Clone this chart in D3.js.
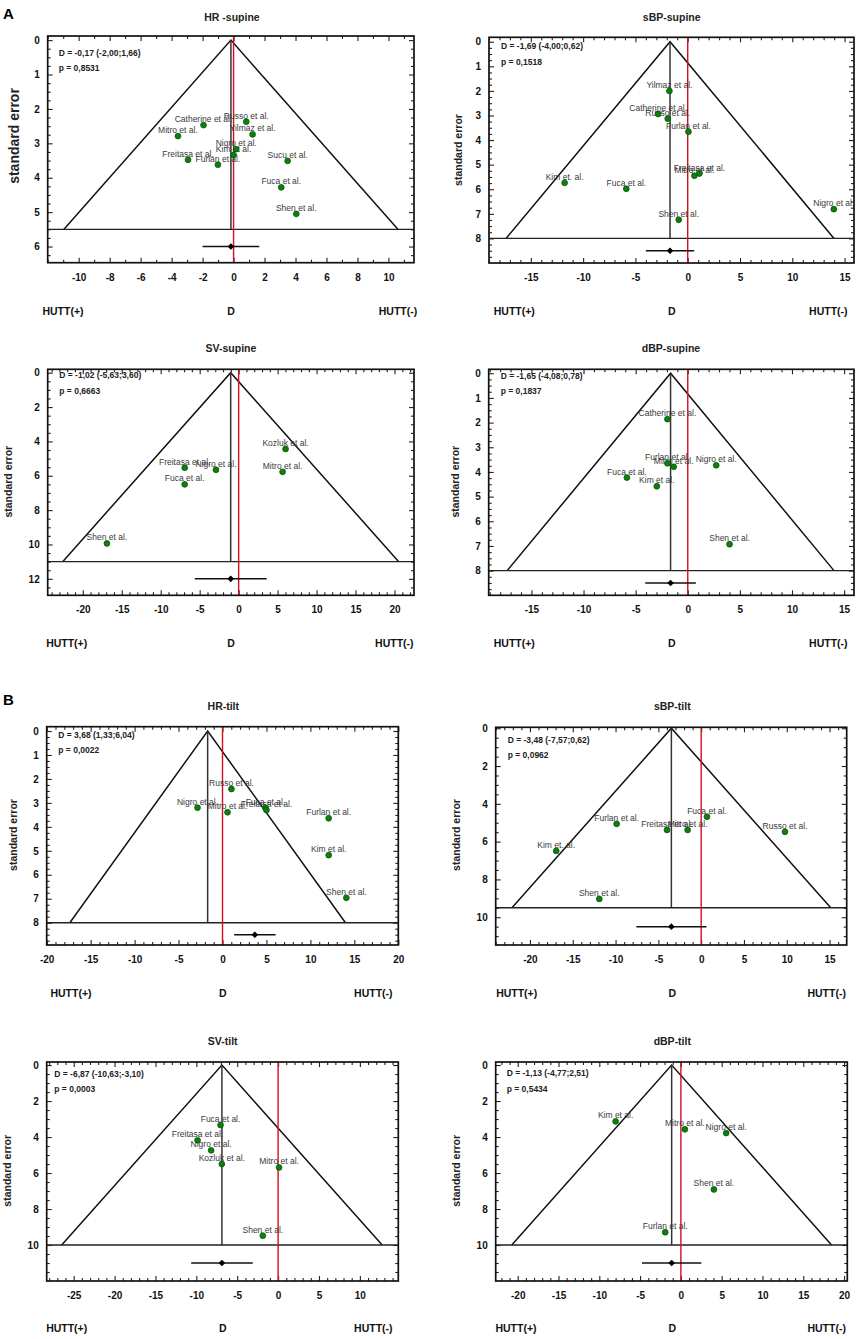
<!DOCTYPE html>
<html>
<head>
<meta charset="utf-8">
<script src="https://cdn.jsdelivr.net/npm/d3@7"></script>
<style>
  body { margin: 0; background: #fff; }
  svg text { font-family: "Liberation Sans", Arial, sans-serif; }
</style>
</head>
<body>
<script>
// ---- data ----
const hrSupineStudies = ["Catherine et al.", "Russo et al.", "Yilmaz et al.", "Mitro et al.", "Nigro et al.", "Kim et al.", "Freitasa et al.", "Furlan et al.", "Sucu et al.", "Fuca et al.", "Shen et al."];
const hrSupineEffect = [-1.94, 0.82, 1.23, -3.59, 0.17, 0.0, -2.94, -1.01, 3.49, 3.08, 4.05];
const hrSupineSE = [2.47, 2.37, 2.74, 2.79, 3.17, 3.34, 3.48, 3.62, 3.51, 4.28, 5.05];

const sbpSupineStudies = ["Yilmaz et al.", "Catherine et al.", "Russo et al.", "Furlan et al.", "Freitasa et al.", "Mitro et al.", "Kim et. al.", "Fuca et al.", "Nigro et al.", "Shen et al."];
const sbpSupineEffect = [-1.75, -2.83, -1.91, 0.07, 1.12, 0.64, -11.77, -5.87, 13.97, -0.86];
const sbpSupineSE = [2.0, 2.94, 3.13, 3.66, 5.36, 5.45, 5.74, 5.98, 6.81, 7.24];

const svSupineStudies = ["Kozluk et al.", "Mitro et al.", "Freitasa et al.", "Nigro et al.", "Fuca et al.", "Shen et al."];
const svSupineEffect = [6.02, 5.64, -6.92, -2.91, -6.92, -16.9];
const svSupineSE = [4.44, 5.77, 5.53, 5.65, 6.5, 9.94];

const dbpSupineStudies = ["Catherine et al.", "Furlan et al.", "Mitro et al.", "Nigro et al.", "Fuca et al.", "Kim et al.", "Shen et al."];
const dbpSupineEffect = [-1.95, -1.95, -1.35, 2.73, -5.84, -2.97, 4.01];
const dbpSupineSE = [1.86, 3.65, 3.79, 3.73, 4.23, 4.58, 6.93];

const hrTiltStudies = ["Russo et al.", "Nigro et al.", "Mitro et al.", "Fuca et al.", "Freitasa et al.", "Furlan et al.", "Kim et al.", "Shen et al."];
const hrTiltEffect = [1.02, -2.84, 0.57, 4.89, 5.0, 12.08, 12.08, 14.09];
const hrTiltSE = [2.42, 3.2, 3.39, 3.2, 3.3, 3.64, 5.18, 6.96];

const sbpTiltStudies = ["Fuca et al.", "Furlan et al.", "Freitasa et al.", "Mitro et al.", "Russo et al.", "Kim et. al.", "Shen et al."];
const sbpTiltEffect = [0.68, -9.87, -3.99, -1.58, 9.79, -16.93, -11.9];
const sbpTiltSE = [4.68, 5.06, 5.38, 5.38, 5.48, 6.49, 9.03];

const svTiltStudies = ["Fuca et al.", "Freitasa et al.", "Nigro et al.", "Kozluk et al.", "Mitro et al.", "Shen et al."];
const svTiltEffect = [-7.04, -9.85, -8.19, -6.88, 0.12, -1.87];
const svTiltSE = [3.33, 4.18, 4.74, 5.5, 5.69, 9.48];

const dbpTiltStudies = ["Kim et al.", "Mitro et al.", "Nigro et al.", "Shen et al.", "Furlan et al."];
const dbpTiltEffect = [-8.0, 0.49, 5.55, 4.05, -1.92];
const dbpTiltSE = [3.13, 3.57, 3.78, 6.91, 9.29];

const panelTitles = ["HR -supine", "sBP-supine", "SV-supine", "dBP-supine", "HR-tilt", "sBP-tilt", "SV-tilt", "dBP-tilt"];
const pooledD = [-0.17, -1.69, -1.02, -1.65, 3.68, -3.48, -6.87, -1.13];
const pooledLow = [-2.00, -4.00, -5.63, -4.08, 1.33, -7.57, -10.63, -4.77];
const pooledHigh = [1.66, 0.62, 3.60, 0.78, 6.04, 0.62, -3.10, 2.51];
const pValues = ["0,8531", "0,1518", "0,6663", "0,1837", "0,0022", "0,0962", "0,0003", "0,5434"];
const funnelCenter = [-0.17, -1.69, -1.02, -1.65, -1.69, -3.48, -6.87, -1.13];
const funnelBaseSE = [5.5, 8, 11, 8, 8, 9.5, 10, 10];
const pooledRowSE = [6, 8.5, 12, 8.5, 8.5, 10.5, 11, 11];

const xTickValues = [
  [-10, -8, -6, -4, -2, 0, 2, 4, 6, 8, 10],
  [-15, -10, -5, 0, 5, 10, 15],
  [-20, -15, -10, -5, 0, 5, 10, 15, 20],
  [-15, -10, -5, 0, 5, 10, 15],
  [-20, -15, -10, -5, 0, 5, 10, 15, 20],
  [-20, -15, -10, -5, 0, 5, 10, 15],
  [-25, -20, -15, -10, -5, 0, 5, 10],
  [-20, -15, -10, -5, 0, 5, 10, 15, 20]
];
const yTickValues = [
  [0, 1, 2, 3, 4, 5, 6],
  [0, 1, 2, 3, 4, 5, 6, 7, 8],
  [0, 2, 4, 6, 8, 10, 12],
  [0, 1, 2, 3, 4, 5, 6, 7, 8],
  [0, 1, 2, 3, 4, 5, 6, 7, 8],
  [0, 2, 4, 6, 8, 10],
  [0, 2, 4, 6, 8, 10],
  [0, 2, 4, 6, 8, 10]
];
const sideLabels = ["HUTT(+)", "D", "HUTT(-)"];

const studies = [hrSupineStudies, sbpSupineStudies, svSupineStudies, dbpSupineStudies, hrTiltStudies, sbpTiltStudies, svTiltStudies, dbpTiltStudies];
const effects = [hrSupineEffect, sbpSupineEffect, svSupineEffect, dbpSupineEffect, hrTiltEffect, sbpTiltEffect, svTiltEffect, dbpTiltEffect];
const stdErrors = [hrSupineSE, sbpSupineSE, svSupineSE, dbpSupineSE, hrTiltSE, sbpTiltSE, svTiltSE, dbpTiltSE];

// ---- layout of each panel (page pixels) ----
const layout = [
  { frame: [47.7, 414, 36, 262.7], xDom: [-12, 11.65], yDom: [-0.12, 6.47], xMinor: 1, yMinor: 0.25, stat: [11, 20, 35], title: [232, 21], ylab: [14, 136, 14], hutt: [63, 231, 398, 314.5] },
  { frame: [489, 854, 37.3, 263], xDom: [-19, 15.9], yDom: [-0.18, 9.0], xMinor: 1, yMinor: 0.25, stat: [12, 12, 28], title: [671.7, 21], ylab: [458.3, 150, 10.5], hutt: [514.3, 671.7, 828.3, 314.5] },
  { frame: [47.7, 414, 369.3, 595.3], xDom: [-24.5, 22.5], yDom: [-0.2, 12.96], xMinor: 1, yMinor: 0.5, stat: [11.6, 8.7, 24.7], title: [231, 352], ylab: [8.3, 481.7, 10.5], hutt: [66.7, 231, 394.3, 646.5] },
  { frame: [488.7, 854, 369.3, 595.3], xDom: [-19.1, 15.95], yDom: [-0.16, 9.0], xMinor: 1, yMinor: 0.25, stat: [12, 9.7, 24.7], title: [671, 352], ylab: [455, 481.7, 10.5], hutt: [514.3, 671.7, 828.3, 646.5] },
  { frame: [46.7, 398.3, 726.7, 945], xDom: [-20, 20], yDom: [-0.18, 8.93], xMinor: 1, yMinor: 0.25, stat: [11.6, 10.8, 25.8], title: [223.3, 710], ylab: [13.3, 835, 10.5], hutt: [71, 222.7, 373.3, 996.5] },
  { frame: [495.7, 846.7, 727.3, 945], xDom: [-24, 17], yDom: [-0.05, 11.47], xMinor: 1, yMinor: 0.5, stat: [12, 15.7, 30.7], title: [672.3, 710], ylab: [456, 835, 10.5], hutt: [516.7, 672.3, 826.7, 996.5] },
  { frame: [46.7, 398.3, 1062, 1281], xDom: [-28.3, 14.7], yDom: [-0.17, 12.0], xMinor: 1, yMinor: 0.5, stat: [7.6, 15, 30], title: [222.7, 1044.5], ylab: [7.3, 1170.8, 10.5], hutt: [66.7, 222.7, 373.3, 1331.5] },
  { frame: [495.7, 847.3, 1062, 1281], xDom: [-22.7, 20.4], yDom: [-0.17, 12.0], xMinor: 1, yMinor: 0.5, stat: [11, 14, 29.5], title: [672.3, 1044.5], ylab: [456, 1170.8, 10.5], hutt: [516, 672.3, 826.7, 1331.5] }
];

const svg = d3.select("body").append("svg")
  .attr("width", 860)
  .attr("height", 1339);

const comma = (v) => d3.format(".2f")(v).replace("−", "-").replace(".", ",");

function minorTicks(dom, step, majors) {
  const lo = Math.min(dom[0], dom[1]), hi = Math.max(dom[0], dom[1]);
  return d3.range(Math.ceil(lo / step) * step, hi, step)
    .filter(v => !majors.some(m => Math.abs(m - v) < 1e-9));
}

function drawPanel(i) {
  const L = layout[i];
  const [x0, x1, y0, y1] = L.frame;
  const x = d3.scaleLinear().domain(L.xDom).range([x0, x1]);
  const y = d3.scaleLinear().domain(L.yDom).range([y0, y1]);
  const g = svg.append("g").attr("class", "panel");

  const clipId = "clip" + i;
  g.append("clipPath").attr("id", clipId)
    .append("rect").attr("x", x0).attr("y", y0).attr("width", x1 - x0).attr("height", y1 - y0);

  // axes with inward ticks (Statistica look)
  const fmt = (d) => String(d);
  const bottom = g.append("g").attr("transform", `translate(0,${y1})`)
    .call(d3.axisBottom(x).tickValues(xTickValues[i]).tickSize(-5).tickPadding(11).tickFormat(fmt));
  g.append("g").attr("transform", `translate(0,${y1})`)
    .call(d3.axisBottom(x).tickValues(minorTicks(L.xDom, L.xMinor, xTickValues[i])).tickSize(-3).tickFormat(""));
  g.append("g").attr("transform", `translate(0,${y0})`)
    .call(d3.axisTop(x).tickValues(xTickValues[i]).tickSize(-5).tickFormat(""));
  g.append("g").attr("transform", `translate(0,${y0})`)
    .call(d3.axisTop(x).tickValues(minorTicks(L.xDom, L.xMinor, xTickValues[i])).tickSize(-3).tickFormat(""));

  const left = g.append("g").attr("transform", `translate(${x0},0)`)
    .call(d3.axisLeft(y).tickValues(yTickValues[i]).tickSize(-5).tickPadding(8).tickFormat(fmt));
  g.append("g").attr("transform", `translate(${x0},0)`)
    .call(d3.axisLeft(y).tickValues(minorTicks(L.yDom, L.yMinor, yTickValues[i])).tickSize(-3).tickFormat(""));
  g.append("g").attr("transform", `translate(${x1},0)`)
    .call(d3.axisRight(y).tickValues(yTickValues[i]).tickSize(-5).tickFormat(""));
  g.append("g").attr("transform", `translate(${x1},0)`)
    .call(d3.axisRight(y).tickValues(minorTicks(L.yDom, L.yMinor, yTickValues[i])).tickSize(-3).tickFormat(""));

  g.selectAll(".domain").remove();
  g.selectAll(".tick line").attr("stroke", "#222").attr("stroke-width", 1.1);
  [bottom, left].forEach(a => a.selectAll("text")
    .attr("fill", "#111").attr("font-size", 10).attr("font-weight", "bold")
    .attr("font-family", "'Liberation Sans', Arial, sans-serif"));

  const base = funnelBaseSE[i];
  const c = funnelCenter[i];

  // funnel
  const funnel = d3.line().x(d => x(d[0])).y(d => y(d[1]));
  g.append("path")
    .attr("d", funnel([[c - 1.96 * base, base], [c, 0], [c + 1.96 * base, base]]))
    .attr("fill", "none").attr("stroke", "#111").attr("stroke-width", 1.5);

  // centre line of funnel
  g.append("line")
    .attr("x1", x(c)).attr("x2", x(c)).attr("y1", y(0)).attr("y2", y(base))
    .attr("stroke", "#333").attr("stroke-width", 1.5);

  // base line
  g.append("line")
    .attr("x1", x0).attr("x2", x1).attr("y1", y(base)).attr("y2", y(base))
    .attr("stroke", "#222").attr("stroke-width", 1.4);

  // zero line
  g.append("line")
    .attr("x1", x(0)).attr("x2", x(0)).attr("y1", y0).attr("y2", y1)
    .attr("stroke", "#d40f1c").attr("stroke-width", 1.4);

  // pooled estimate with CI
  const rowY = y(pooledRowSE[i]);
  g.append("line")
    .attr("x1", x(pooledLow[i])).attr("x2", x(pooledHigh[i])).attr("y1", rowY).attr("y2", rowY)
    .attr("stroke", "#111").attr("stroke-width", 1.5);
  g.append("path")
    .attr("d", d3.symbol().type(d3.symbolSquare).size(22)())
    .attr("transform", `translate(${x(pooledD[i])},${rowY}) rotate(45)`)
    .attr("fill", "#000");

  // studies
  const pts = studies[i].map((s, k) => ({ name: s, d: effects[i][k], se: stdErrors[i][k] }));
  const marks = g.append("g").attr("clip-path", `url(#${clipId})`);
  marks.selectAll("text.study").data(pts).join("text")
    .attr("class", "study")
    .attr("x", d => x(d.d))
    .attr("y", d => y(d.se) - 3)
    .attr("text-anchor", "middle")
    .attr("font-size", 8.5)
    .attr("fill", "#3a3a3a")
    .text(d => d.name);
  marks.selectAll("circle").data(pts).join("circle")
    .attr("cx", d => x(d.d))
    .attr("cy", d => y(d.se))
    .attr("r", 2.9)
    .attr("fill", "#0d7f0d")
    .attr("stroke", "#075407")
    .attr("stroke-width", 0.8);

  // frame
  g.append("rect")
    .attr("x", x0).attr("y", y0).attr("width", x1 - x0).attr("height", y1 - y0)
    .attr("fill", "none").attr("stroke", "#111").attr("stroke-width", 1.7);

  // statistics text
  g.append("text")
    .attr("x", x0 + L.stat[0]).attr("y", y0 + L.stat[1])
    .attr("font-size", 8.5).attr("font-weight", "bold").attr("fill", "#222")
    .text(`D = ${comma(pooledD[i])} (${comma(pooledLow[i])};${comma(pooledHigh[i])})`);
  g.append("text")
    .attr("x", x0 + L.stat[0]).attr("y", y0 + L.stat[2])
    .attr("font-size", 8.5).attr("font-weight", "bold").attr("fill", "#222")
    .text(`p = ${pValues[i]}`);

  // title
  g.append("text")
    .attr("x", L.title[0]).attr("y", L.title[1])
    .attr("text-anchor", "middle").attr("font-size", 10.5).attr("font-weight", "bold").attr("fill", "#222")
    .text(panelTitles[i]);

  // y label
  g.append("text")
    .attr("transform", `translate(${L.ylab[0]},${L.ylab[1]}) rotate(-90)`)
    .attr("text-anchor", "middle").attr("dominant-baseline", "central")
    .attr("font-size", L.ylab[2]).attr("font-weight", "bold").attr("fill", "#222")
    .text("standard error");

  // HUTT / D labels
  g.selectAll("text.side").data(sideLabels).join("text")
    .attr("class", "side")
    .attr("x", (d, k) => L.hutt[k])
    .attr("y", L.hutt[3])
    .attr("text-anchor", "middle").attr("font-size", 10.5).attr("font-weight", "bold").attr("fill", "#111")
    .text(d => d);
}

d3.range(8).forEach(drawPanel);

// panel letters
svg.append("text").attr("x", 3).attr("y", 19)
  .attr("font-size", 15).attr("font-weight", "bold").text("A");
svg.append("text").attr("x", 3).attr("y", 705)
  .attr("font-size", 15).attr("font-weight", "bold").text("B");
</script>
</body>
</html>
